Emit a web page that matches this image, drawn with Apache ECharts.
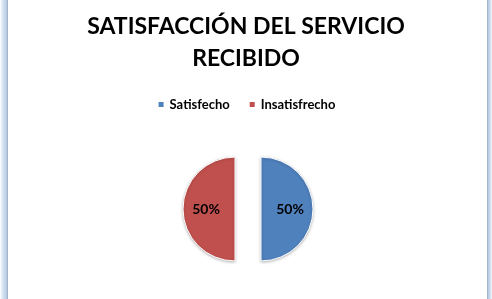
<!DOCTYPE html>
<html><head><meta charset="utf-8">
<script src="https://cdn.jsdelivr.net/npm/echarts@6/dist/echarts.min.js"></script>
<style>
html,body{margin:0;padding:0;background:#fff;}
#wrap{position:relative;width:492px;height:299px;}
#lb{position:absolute;left:0;top:0;width:8px;height:299px;background:linear-gradient(to right,#fff 0%,#dbe6f3 30%,#b9cde6 80%,#9aa9bb 100%);}
#rb{position:absolute;left:487px;top:0;width:5px;height:299px;background:linear-gradient(to right,#9aa9bb 0%,#b9cde6 30%,#dbe6f3 80%,#fff 100%);}
#chart{position:absolute;left:0;top:0;width:492px;height:299px;}
</style></head>
<body><div id="wrap"><div id="lb"></div><div id="rb"></div><div id="chart"></div></div>
<script>
const titleText = "SATISFACCIÓN DEL SERVICIO\nRECIBIDO";
const categories = ["Satisfecho", "Insatisfrecho"];
const values = [50, 50];
const colors = ["#4f81bd", "#c0504d"];

const chart = echarts.init(document.getElementById('chart'));
chart.setOption({
  backgroundColor: 'transparent',
  animation: false,
  title: {
    text: titleText, left: 'center', top: 6,
    textStyle: {fontFamily: 'Lato', fontWeight: 'bold', fontSize: 23, lineHeight: 32, color: '#000'}
  },
  legend: {
    data: categories, top: 93, left: 'center', icon: 'rect', itemWidth: 7, itemHeight: 7, itemGap: 18,
    textStyle: {fontFamily: 'Lato', fontWeight: 'bold', fontSize: 13, color: '#000'}
  },
  series: [{
    type: 'pie', center: [248, 209], radius: 52, startAngle: 90, clockwise: true,
    selectedMode: 'multiple', selectedOffset: 13,
    data: categories.map((c, i) => ({name: c, value: values[i], selected: true, itemStyle: {color: colors[i]}})),
    itemStyle: {borderColor: '#fff', borderWidth: 1, shadowColor: 'rgba(0,0,0,0.25)', shadowBlur: 3, shadowOffsetY: 1},
    label: {position: 'inside', formatter: p => p.percent.toFixed(0) + '%', fontFamily: 'Lato', fontWeight: 'bold', fontSize: 14, color: '#000'},
    labelLine: {show: false}
  }]
});
</script></body></html>
